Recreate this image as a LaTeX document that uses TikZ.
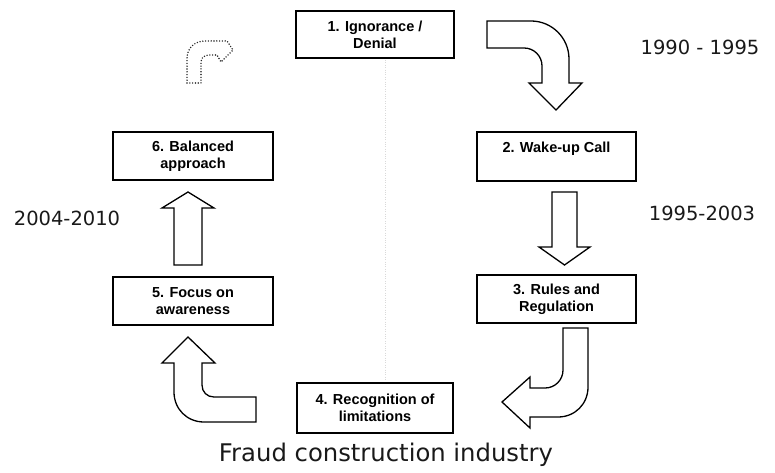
\documentclass[tikz,border=0pt]{standalone}
\usepackage{fontspec}
\setmainfont{Liberation Sans}
\newfontfamily\yearfont{DejaVu Sans}

\tikzset{
  stage/.style={draw, line width=1.3pt, align=center, inner sep=0pt,
    font=\fontsize{14.5}{17}\selectfont\bfseries},
  blockarrow/.style={draw, line width=1.3pt, line join=miter, fill=white},
  yearlabel/.style={font=\yearfont\fontsize{19.5}{22}\selectfont, text=black!90},
  captionlabel/.style={font=\yearfont\fontsize{24.3}{28}\selectfont, text=black!90}
}

\begin{document}
\begin{tikzpicture}[x=1pt,y=-1pt]
	\useasboundingbox (0,0) rectangle (775,473);

	% faint fold line of the scan
	\draw[dotted, black!15] (385,60) -- (385,380);

	% the six stages
	\node[stage, minimum width=158pt, minimum height=47pt] (box1) at (375,34.5) {1. Ignorance /\\Denial};
	\node[stage, minimum width=159pt, minimum height=49pt, text depth=19pt] (box2) at (556.5,156.5) {2. Wake-up Call};
	\node[stage, minimum width=159pt, minimum height=48pt] (box3) at (556.5,299) {3. Rules and\\Regulation};
	\node[stage, minimum width=156pt, minimum height=50pt] (box4) at (375,408) {4. Recognition of\\limitations};
	\node[stage, minimum width=160pt, minimum height=48pt] (box5) at (193,301) {5. Focus on\\awareness};
	\node[stage, minimum width=160pt, minimum height=48pt] (box6) at (193,156) {6. Balanced\\approach};

	% 1 -> 2, bent arrow
	\draw[blockarrow] (487,21) -- (531,21) .. controls (552,21) and (569,38) .. (569,59)
		-- (569,83) -- (582,83) -- (556,110) -- (529,83) -- (542,83) -- (542,66)
		.. controls (542,56) and (534,48) .. (524,48) -- (487,48) -- cycle;

	% 2 -> 3
	\draw[blockarrow] (552,192) -- (577,192) -- (577,247) -- (590,247) -- (564.5,265)
		-- (539,247) -- (552,247) -- cycle;

	% 3 -> 4, bent arrow
	\draw[blockarrow] (563,328) -- (588,328) -- (588,387) .. controls (588,404) and (575,417) .. (558,417)
		-- (530,417) -- (530,428) -- (502,402) -- (530,377) -- (530,388) -- (545,388)
		.. controls (555,388) and (563,380) .. (563,370) -- cycle;

	% 4 -> 5, bent arrow
	\draw[blockarrow] (256,397) -- (214,397) .. controls (207,397) and (202,392) .. (202,385)
		-- (202,363) -- (215,363) -- (188,337) -- (162,363) -- (174,363) -- (174,392)
		.. controls (174,409) and (187,422) .. (204,422) -- (256,422) -- cycle;

	% 5 -> 6
	\draw[blockarrow] (174,265) -- (202,265) -- (202,208) -- (214,208) -- (188,192)
		-- (162,208) -- (174,208) -- cycle;

	% 6 -> 1, only hinted
	\draw[line width=1.6pt, black!85, dash pattern=on 0pt off 2.8pt, line cap=round]
		(187,83) -- (187,58) .. controls (187,48) and (195,41) .. (205,41) -- (227,41)
		-- (233,50) -- (221,62) -- (217,55) -- (210,55) .. controls (205,55) and (201,57) .. (201,62)
		-- (201,83) -- cycle;

	% periods
	\node[yearlabel] (year1) at (700,47) {1990 - 1995};
	\node[yearlabel] (year2) at (702,213) {1995-2003};
	\node[yearlabel] (year3) at (67,218) {2004-2010};

	\node[captionlabel] (caption) at (386,455) {Fraud construction industry};
\end{tikzpicture}
\end{document}
